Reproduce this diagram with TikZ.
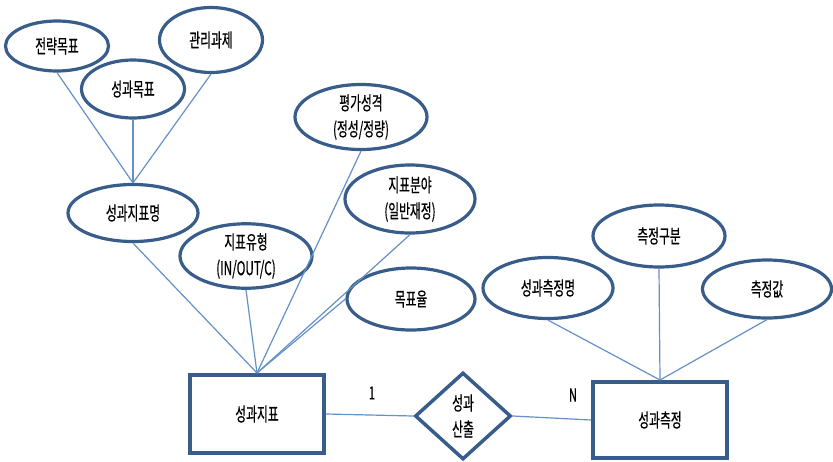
\documentclass[tikz,border=0pt]{standalone}
\usepackage{fontspec}
\newfontfamily\kr[FakeStretch=0.62,FakeBold=0.5]{Noto Sans CJK KR}
\usetikzlibrary{shapes.geometric}
\definecolor{bord}{RGB}{56,93,138}
\definecolor{conn}{RGB}{100,145,200}
\tikzset{
  attr/.style={ellipse, draw=bord, line width=3.2pt, fill=white, inner sep=0pt, align=center,
    font=\kr\fontsize{19}{26}\selectfont},
  ent/.style={rectangle, draw=bord, line width=4pt, fill=white, inner sep=0pt,
    font=\kr\fontsize{19}{26}\selectfont},
  rel/.style={diamond, draw=bord, line width=3.5pt, fill=white, inner sep=0pt, align=center,
    font=\kr\fontsize{19}{26}\selectfont},
  lnk/.style={draw=conn, line width=1.2pt},
  card/.style={font=\kr\fontsize{18}{22}\selectfont, inner sep=0pt}
}
\begin{document}
\begin{tikzpicture}[x=1pt,y=-1pt]
\useasboundingbox[fill=white] (0,0) rectangle (833,461);
% entities and relationship
\node[ent, minimum width=134pt, minimum height=78pt] (sj) at (257,414) {성과지표};
\node[ent, minimum width=134pt, minimum height=76pt] (sm) at (660,420) {성과측정};
\node[rel, minimum width=96pt, minimum height=87pt] (sc) at (463,416) {성과\\산출};
% attributes
\node[attr, minimum width=103pt, minimum height=50pt] (jr) at (57,46) {전략목표};
\node[attr, minimum width=103pt, minimum height=65pt] (gr) at (211,40) {관리과제};
\node[attr, minimum width=103pt, minimum height=58pt] (gm) at (133,89) {성과목표};
\node[attr, minimum width=130pt, minimum height=57pt] (spm) at (133,213) {성과지표명};
\node[attr, minimum width=132pt, minimum height=63pt] (jy) at (246,256) {지표유형\\(IN/OUT/C)};
\node[attr, minimum width=132pt, minimum height=65pt] (pg) at (361,117) {평가성격\\(정성/정량)};
\node[attr, minimum width=130pt, minimum height=68pt] (jb) at (410,199) {지표분야\\(일반재정)};
\node[attr, minimum width=128pt, minimum height=62pt] (mp) at (411,299) {목표율};
\node[attr, minimum width=132pt, minimum height=62pt] (cg) at (659,236) {측정구분};
\node[attr, minimum width=130pt, minimum height=61pt] (smm) at (548,288) {성과측정명};
\node[attr, minimum width=129pt, minimum height=58pt] (cv) at (767,289) {측정값};
% connectors
\path[lnk] (jr.south) -- (spm.north);
\path[lnk] (gm.south) -- (spm.north);
\path[lnk] (gr.south) -- (spm.north);
\path[lnk] (spm.south) -- (sj.north);
\path[lnk] (jy.south) -- (sj.north);
\path[lnk] (pg.south) -- (sj.north);
\path[lnk] (jb.south) -- (sj.north);
\path[lnk] (mp.west) -- (sj.north);
\path[lnk] (smm.south) -- (sm.north);
\path[lnk] (cg.south) -- (sm.north);
\path[lnk] (cv.south) -- (sm.north);
\path[lnk] (sj.east) -- (sc.west);
\path[lnk] (sc.east) -- (sm.west);
% cardinalities
\node[card] (c1) at (372,393) {1};
\node[card] (cn) at (573,395) {N};
\end{tikzpicture}
\end{document}
